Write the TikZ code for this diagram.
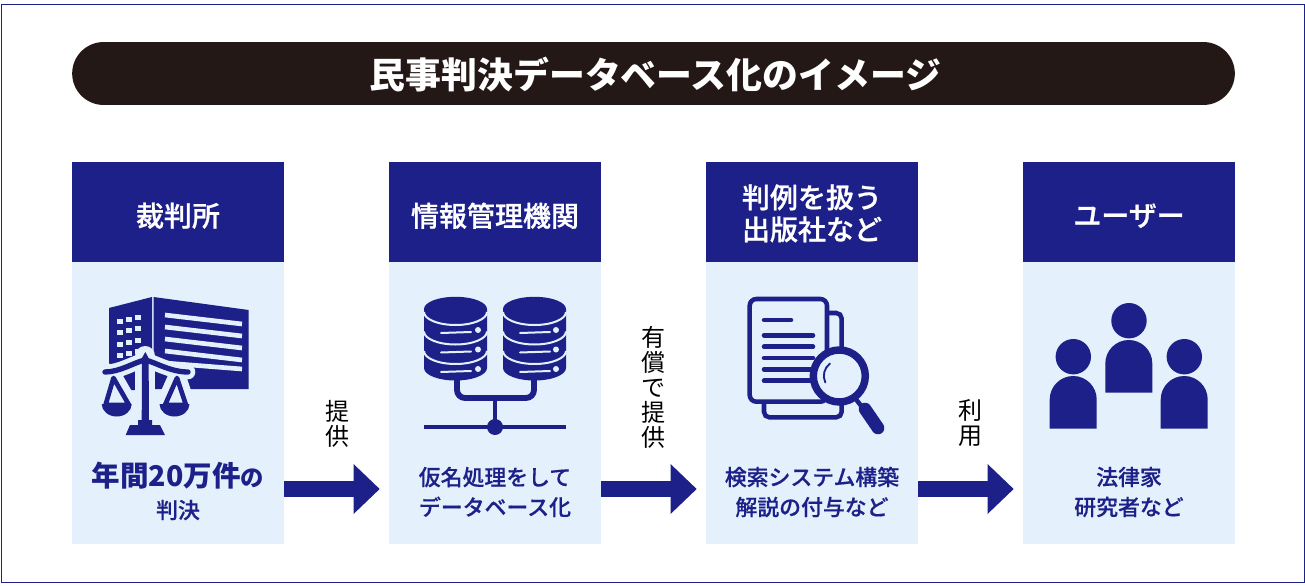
\documentclass[tikz,border=0pt]{standalone}
\usepackage{fontspec}
\setmainfont{Noto Sans CJK JP}
\newfontfamily\medfont[FakeBold=0.35]{Noto Sans CJK JP Medium}
\newfontfamily\headfont[FakeBold=0.8]{Noto Sans CJK JP Medium}
\usetikzlibrary{arrows.meta}
\definecolor{navy}{HTML}{1D2088}
\definecolor{pale}{HTML}{E4F1FC}
\definecolor{ink}{HTML}{231815}
\newcommand{\lowered}[2]{\raisebox{-#1}[\height][\depth]{#2}}
\begin{document}
\begin{tikzpicture}[x=0.75pt,y=-0.75pt]
        \tikzstyle{head_style} = [fill=navy, text=white, minimum width=159pt, minimum height=75pt, inner sep=0pt, align=center, font=\fontsize{21}{24}\headfont]
        \tikzstyle{body_style} = [fill=pale, minimum width=159pt, minimum height=211.5pt, inner sep=0pt]
        \tikzstyle{text_style} = [align=center, inner sep=0pt, text=navy, font=\fontsize{16.4}{22.5}\medfont]
        \tikzstyle{side_style} = [align=center, inner sep=0pt, font=\fontsize{18}{18.75}\selectfont]
        \tikzstyle{arrow_style1} = [-{Triangle[length=19.5pt,width=36pt]}, navy, line width=12pt, shorten >=6.75pt]
        \tikzstyle{icon_fill} = [fill=navy, draw=none]
        \tikzstyle{icon_line} = [draw=navy, line cap=round]

        \useasboundingbox (0,0) rectangle (1305,585);
        \draw[navy, line width=0.75pt] (1,5) rectangle (1304,582);

        % Title at the top
        \node[fill=ink, text=white, rounded corners=23.6pt, minimum width=872pt, minimum height=47.2pt, inner sep=0pt, font=\fontsize{26.9}{30}\selectfont\bfseries] (title) at (653.5,73.5) {\hspace*{3pt}\lowered{0.75pt}{民事判決データベース化のイメージ}};

        % The four columns
        \node[head_style] (n11) at (178,212) {\lowered{2.8pt}{裁判所}};
        \node[body_style] (n12) at (178,403) {};
        \node[head_style] (n21) at (495,212) {\lowered{2.8pt}{情報管理機関}};
        \node[body_style] (n22) at (495,403) {};
        \node[head_style] (n31) at (812,212) {\lowered{1pt}{判例を扱う}\\\lowered{1pt}{出版社など}};
        \node[body_style] (n32) at (812,403) {};
        \node[head_style] (n41) at (1129,212) {\lowered{2.8pt}{ユーザー}};
        \node[body_style] (n42) at (1129,403) {};

        % Texts under the icons
        \node[text_style, font=\fontsize{16.4}{24}\medfont] (t1) at (178,491) {{\normalfont\bfseries\fontsize{21.4}{24}\selectfont 年間20万件}{\normalfont\bfseries\fontsize{17.5}{24}\selectfont の}\\判決};
        \node[text_style] (t2) at (495,492) {仮名処理をして\\データベース化};
        \node[text_style] (t3) at (812,492) {検索システム構築\\解説の付与など};
        \node[text_style] (t4) at (1129,492) {法律家\\研究者など};

        % Arrows between the columns
        \coordinate (arrow_y) at (0,489);
        \draw[arrow_style1] (n12.east |- arrow_y) -- (n22.west |- arrow_y);
        \draw[arrow_style1] (n22.east |- arrow_y) -- (n32.west |- arrow_y);
        \draw[arrow_style1] (n32.east |- arrow_y) -- (n42.west |- arrow_y);

        \node[side_style] (s1) at (337,423.5) {提\\供};
        \node[side_style] (s2) at (653,387) {有\\償\\で\\提\\供};
        \node[side_style] (s3) at (970,423.5) {利\\用};

        % Building with the scales
        \fill[icon_fill] (109,308) -- (152,297) -- (152,390) -- (130,390) -- (109,363) -- cycle;
        \fill[icon_fill] (153.5,297) -- (248.7,310) -- (248.7,389) -- (153.5,389) -- cycle;
        \draw[pale, line width=3.5pt] (165,315) -- (242,324);
        \draw[pale, line width=3.5pt] (165,327) -- (242,336);
        \draw[pale, line width=3.5pt] (165,339) -- (242,348);
        \draw[pale, line width=3.5pt] (165,351) -- (242,360);
        \draw[pale, line width=3.5pt] (165,363) -- (242,369);
        \foreach \wx in {120,129,138}
            \foreach \wy in {319,330,342,353}
                \fill[pale] (\wx,\wy) ++(-2.7,{(120-\wx)*0.25}) rectangle ++(5.5,5);

        % halo of the scales
        \begin{scope}[pale, line join=round, line cap=round]
            \draw[line width=11pt] (105,372) .. controls (120,372) and (135,362) .. (145,360) .. controls (155,362) and (170,372) .. (188,372);
            \draw[line width=15pt] (145.3,356) -- (145.3,396);
            \filldraw[line width=14pt] (113.5,378) -- (105.5,405) -- (129,405) -- cycle;
            \filldraw[line width=14pt] (177,378) -- (165,405) -- (186,405) -- cycle;
        \end{scope}

        \draw[navy, line width=4pt, line cap=round] (105,372) .. controls (120,372) and (135,362) .. (145,360) .. controls (155,362) and (170,372) .. (188,372);
        \fill[icon_fill] (142,358) -- (145.3,352) -- (148.6,358) -- (149,420) -- (141.7,420) -- cycle;
        \draw[navy, line width=3.5pt, line join=round] (113.5,378) -- (105.5,405) -- (129,405) -- cycle;
        \draw[navy, line width=3.5pt, line join=round] (177,378) -- (165,405) -- (186,405) -- cycle;
        \fill[icon_fill] (101.7,404) arc[start angle=180, end angle=0, x radius=15, y radius=12.5] -- cycle;
        \fill[icon_fill] (159.5,404) arc[start angle=180, end angle=0, x radius=15, y radius=12.5] -- cycle;
        \fill[icon_fill] (125.7,435) -- (130,425) -- (138,425) -- (138,420) -- (152,420) -- (152,425) -- (160,425) -- (165,435) -- cycle;

        % Two databases on a bus
        \fill[icon_fill] (424,309) -- (424,368) arc[start angle=180, end angle=0, x radius=31.5, y radius=12.5] -- (487,309) arc[start angle=360, end angle=180, x radius=31.5, y radius=12.2] -- cycle;
        \draw[pale, line width=1.5pt] (424,312) arc[start angle=180, end angle=0, x radius=31.5, y radius=13];
        \draw[pale, line width=1.5pt] (424,331.5) arc[start angle=180, end angle=0, x radius=31.5, y radius=13];
        \draw[pale, line width=1.5pt] (424,351) arc[start angle=180, end angle=0, x radius=31.5, y radius=13];
        \draw[pale, line width=1.5pt, line cap=round] (441,333) -- (471,332);
        \draw[pale, line width=1.5pt, line cap=round] (441,352.5) -- (471,351.5);
        \draw[pale, line width=1.5pt, line cap=round] (441,372) -- (471,371);
        \fill[pale] (478,330) circle (3);
        \fill[pale] (478,349.5) circle (3);
        \fill[pale] (478,369) circle (3);

        \fill[icon_fill] (503,309) -- (503,368) arc[start angle=180, end angle=0, x radius=31.5, y radius=12.5] -- (566,309) arc[start angle=360, end angle=180, x radius=31.5, y radius=12.2] -- cycle;
        \draw[pale, line width=1.5pt] (503,312) arc[start angle=180, end angle=0, x radius=31.5, y radius=13];
        \draw[pale, line width=1.5pt] (503,331.5) arc[start angle=180, end angle=0, x radius=31.5, y radius=13];
        \draw[pale, line width=1.5pt] (503,351) arc[start angle=180, end angle=0, x radius=31.5, y radius=13];
        \draw[pale, line width=1.5pt, line cap=round] (520,333) -- (550,332);
        \draw[pale, line width=1.5pt, line cap=round] (520,352.5) -- (550,351.5);
        \draw[pale, line width=1.5pt, line cap=round] (520,372) -- (550,371);
        \fill[pale] (556,330) circle (3);
        \fill[pale] (556,349.5) circle (3);
        \fill[pale] (556,369) circle (3);

        \draw[navy, line width=4.4pt, rounded corners=6pt] (457,378) -- (457,398) -- (534,398) -- (534,378);
        \draw[navy, line width=3.4pt] (495,398) -- (495,427);
        \draw[navy, line width=3.4pt] (424,427) -- (566,427);
        \fill[icon_fill] (495,427) circle (8);

        % Documents with the magnifier
        \draw[navy, line width=3.4pt, rounded corners=4pt] (764,402) -- (764,417.3) -- (841.6,417.3) -- (841.6,313) -- (827,313);
        \draw[navy, line width=3.4pt, fill=pale, rounded corners=5pt] (749.7,299) rectangle (827,401.7);
        \draw[icon_line, line width=3.4pt] (764,320) -- (791,320);
        \draw[icon_line, line width=3.4pt] (764,335.3) -- (813,335.3);
        \draw[icon_line, line width=3.4pt] (764,346.7) -- (813,346.7);
        \draw[icon_line, line width=3.4pt] (764,358) -- (813,358);
        \draw[icon_line, line width=3.4pt] (764,369.3) -- (813,369.3);
        \draw[icon_line, line width=3.4pt] (764,380.7) -- (813,380.7);
        \draw[navy, line width=5.6pt, fill=pale] (839.3,376) circle (26);
        \draw[icon_line, line width=1.4pt] (830,363.5) arc[start angle=233, end angle=155, radius=15.5];
        \draw[navy, line width=3.4pt] (855,398) -- (862,407);
        \draw[icon_line, line width=9.5pt] (865,409) -- (878,428);

        % Three people
        \fill[icon_fill] (1129,320.7) circle (17.7);
        \fill[icon_fill] (1105.3,392.7) -- (1105.3,363.5) arc[start angle=180, end angle=360, radius=23.5] -- (1152.3,392.7) -- cycle;
        \fill[icon_fill] (1073.3,356.7) circle (17.7);
        \fill[icon_fill] (1049.7,428.7) -- (1049.7,399.5) arc[start angle=180, end angle=360, radius=23.5] -- (1096.7,428.7) -- cycle;
        \fill[icon_fill] (1184.3,356.7) circle (17.7);
        \fill[icon_fill] (1160.7,428.7) -- (1160.7,399.5) arc[start angle=180, end angle=360, radius=23.5] -- (1207.7,428.7) -- cycle;
\end{tikzpicture}
\end{document}
